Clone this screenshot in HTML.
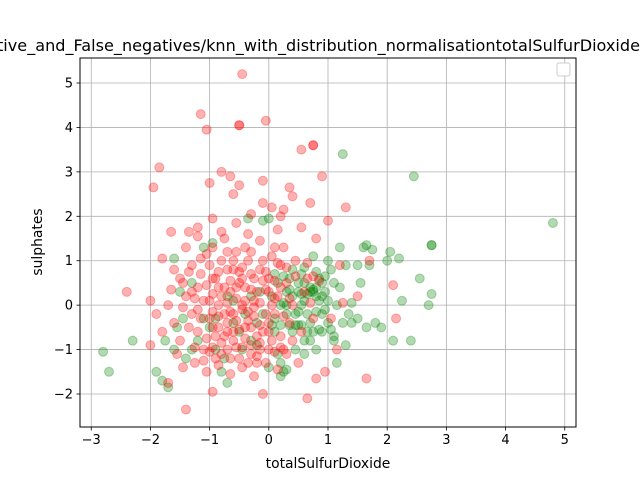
<!DOCTYPE html>
<html><head><meta charset="utf-8"><style>
body{margin:0;background:#fff}
svg{display:block;font-family:"DejaVu Sans","Liberation Sans",sans-serif}
</style></head><body>
<svg id="chart" width="640" height="480">
<rect x="0" y="0" width="640" height="480" fill="#fff"/>
<text x="-3" y="51" font-size="16" textLength="643" lengthAdjust="spacingAndGlyphs">tive_and_False_negatives/knn_with_distribution_normalisationtotalSulfurDioxide</text>
<g id="grid"></g>
<g id="points"></g>
<rect x="80" y="58" width="496" height="369" fill="none" stroke="#000" stroke-width="1"/>
<g id="ticks"></g>
<text x="328" y="468" font-size="13.9" text-anchor="middle">totalSulfurDioxide</text>
<text x="42" y="242" font-size="13.9" text-anchor="middle" transform="rotate(-90 42 242)">sulphates</text>
<rect x="557" y="63" width="13" height="13" rx="2" fill="#fff" stroke="#ccc"/>
</svg>
<script>
const xTicks=[-3,-2,-1,0,1,2,3,4,5];
const yTicks=[-2,-1,0,1,2,3,4,5];
const greenPts=[[-2.8,-1.05],[-2.7,-1.5],[-2.3,-0.8],[-1.9,-1.5],[-1.8,-1.7],[-1.7,-1.85],[-1.75,-0.8],[-1.6,-1.0],[-1.55,-0.5],[-1.5,0.3],[-1.6,1.05],[-1.4,-1.2],[-1.3,-1.0],[-1.2,-0.8],[-1.1,1.3],[-1.0,-0.5],[-0.9,-0.3],[-0.8,-1.5],[-0.7,-1.75],[-0.6,0.1],[-0.5,-0.6],[-0.4,-0.2],[-0.3,0.2],[-0.2,-0.9],[-0.1,1.9],[0.0,1.95],[0.1,-0.3],[0.15,0.5],[0.2,-1.3],[0.25,-1.5],[0.3,0.0],[0.35,-0.45],[0.4,0.8],[0.45,-0.2],[0.5,0.3],[0.55,-0.45],[0.6,0.1],[0.6,0.85],[0.65,-0.6],[0.7,0.4],[0.7,-0.4],[0.75,1.1],[0.8,0.2],[0.8,-1.0],[0.85,0.6],[0.9,-0.2],[0.9,0.5],[0.95,0.3],[1.0,1.0],[1.0,-0.4],[1.05,0.8],[1.1,-0.7],[1.15,-1.3],[1.2,0.4],[1.2,1.3],[1.25,3.4],[1.3,0.9],[1.35,-0.2],[1.4,0.05],[1.4,-0.4],[1.5,-0.3],[1.5,0.9],[1.6,1.3],[1.65,1.35],[1.7,0.9],[1.75,1.25],[1.8,-0.4],[1.9,-0.5],[2.0,1.0],[2.05,1.2],[2.1,-0.8],[2.2,1.05],[2.25,0.1],[2.4,-0.8],[2.45,2.9],[2.55,0.6],[2.7,0.0],[2.75,1.35],[2.75,0.25],[4.8,1.85],[0.3,0.3],[0.35,0.35],[0.45,-0.45],[0.5,-0.45],[0.55,0.0],[0.65,0.25],[0.7,0.3],[0.75,0.35],[0.8,0.4],[0.85,-0.55],[0.9,-0.6],[1.1,-0.8],[0.05,0.2],[0.1,-0.6],[0.2,0.0],[0.25,0.05],[-0.2,-0.4],[-0.3,-0.8],[-0.6,-0.4],[-0.7,0.2],[-0.75,-1.2],[-0.95,1.4],[-1.3,0.5],[-1.45,-0.3],[0.0,-1.4],[0.2,-1.6],[0.3,-1.45],[0.6,-1.1],[0.7,-0.8],[0.1,0.7],[0.55,0.7],[0.6,0.5],[1.0,0.1],[1.15,0.0],[0.8,-0.15],[0.95,-0.1],[1.3,-0.9],[0.5,-0.15],[-0.35,1.95],[1.55,0.5],[1.65,-0.5],[2.75,1.35],[0.75,0.3],[0.3,-0.2],[0.4,-0.6],[0.5,0.5],[0.65,-0.2],[0.85,0.1],[0.95,0.65],[1.05,-0.55],[0.35,0.6],[0.2,-0.45],[0.15,-1.1],[0.45,-1.0],[0.6,-0.8],[0.9,0.2],[1.1,0.5],[1.25,-0.4],[0.75,-0.6],[0.55,0.25],[0.4,0.2],[0.25,0.65],[0.8,0.75],[-0.1,-0.2],[-0.45,-1.0],[-0.9,-1.0],[-1.1,-0.3],[-0.15,0.3],[0.05,-0.45]];
const redPts=[[-1.15,4.3],[-1.05,3.95],[-0.5,4.05],[-0.5,4.05],[-0.45,5.2],[-0.05,4.15],[-1.85,3.1],[-1.95,2.65],[-0.65,2.9],[-0.8,3.0],[-0.5,2.7],[-1.0,2.75],[-0.1,2.8],[0.55,3.5],[0.75,3.6],[0.75,3.6],[0.35,2.65],[0.9,2.9],[0.4,2.45],[0.7,2.3],[0.25,2.15],[0.05,2.2],[-0.1,2.3],[-0.6,2.5],[-0.3,2.05],[0.2,2.0],[0.55,1.75],[-1.2,1.75],[-1.35,1.65],[-1.65,1.65],[-0.8,1.65],[-2.4,0.3],[-2.0,0.1],[-1.4,-2.35],[-0.95,-1.95],[-0.1,-2.0],[0.65,-2.1],[1.65,-1.65],[0.8,-1.65],[-1.7,-1.75],[1.3,2.2],[1.0,1.9],[0.8,1.5],[2.1,0.45],[2.15,-0.3],[1.7,1.0],[1.5,0.2],[1.05,-0.3],[1.15,-1.0],[0.95,-1.5],[1.2,0.9],[1.25,0.05],[0.75,0.65],[0.65,0.6],[-1.8,1.05],[-1.6,0.8],[-1.5,0.6],[-1.4,1.3],[-1.3,0.9],[-1.2,0.4],[-1.1,0.1],[-1.0,0.9],[-0.9,0.6],[-0.8,0.2],[-0.7,0.8],[-0.6,1.0],[-0.5,0.5],[-0.4,1.3],[-0.3,0.7],[-0.2,0.3],[-0.1,1.0],[0.0,0.6],[0.1,1.3],[0.2,0.9],[0.3,0.5],[-1.7,0.0],[-1.6,-0.4],[-1.5,-0.8],[-1.4,0.2],[-1.3,-0.2],[-1.2,-0.6],[-1.1,-1.0],[-1.0,-0.3],[-0.9,-0.7],[-0.8,-1.1],[-0.7,-0.4],[-0.6,-0.8],[-0.5,-1.2],[-0.4,-0.5],[-0.3,-0.9],[-0.2,-1.3],[-0.1,-0.6],[0.0,-1.0],[0.1,-0.2],[0.2,-0.7],[0.3,-1.1],[0.4,0.0],[-1.55,-1.1],[-1.45,-1.4],[-1.25,-1.3],[-1.05,-1.5],[-0.85,-1.35],[-0.65,-1.55],[-0.45,-1.4],[-0.25,-1.6],[-0.05,-1.3],[0.15,-1.45],[-1.65,0.35],[-1.35,0.75],[-1.15,1.05],[-0.95,1.3],[-0.75,1.5],[-0.55,1.2],[-0.35,1.6],[-0.15,1.45],[0.05,1.1],[0.25,1.3],[0.45,1.0],[-0.85,0.0],[-0.65,0.3],[-0.45,-0.1],[-0.25,0.1],[-0.05,-0.2],[0.15,0.2],[0.35,-0.4],[0.55,-0.6],[-0.95,-0.95],[-0.75,-0.7],[-0.55,-0.35],[-0.35,-0.15],[-0.15,-0.45],[0.05,-0.8],[0.25,-1.0],[-1.05,0.45],[-0.85,0.75],[-0.65,0.55],[-0.45,0.85],[-0.25,0.6],[-0.05,0.35],[0.6,0.3],[0.7,0.05],[0.75,-0.3],[0.85,0.55],[0.65,0.95],[0.5,-1.3],[0.4,-0.8],[-1.9,-0.2],[-1.8,-0.6],[-2.0,-0.9],[-1.2,1.55],[-0.55,1.85],[-0.95,1.95],[0.15,1.7],[-0.45,0.0],[-0.35,-0.35],[-0.75,-0.2],[-0.55,0.15],[-0.15,0.8],[0.05,0.0],[-0.9,-1.2],[-0.7,-1.0],[-0.3,-1.1],[0.0,-0.4],[-1.35,-0.5],[-1.25,0.15],[-0.95,0.25],[-0.4,0.4],[-0.2,-0.7],[0.25,-0.25],[0.35,0.15],[0.45,0.65],[-0.6,-0.6],[-0.1,0.55],[-0.6,0.8],[-0.5,0.75],[-0.45,-0.95],[-0.15,-1.0],[-1.0,-1.05],[-0.85,-0.25],[0.2,0.4],[-0.65,-0.15],[-1.15,-0.3],[-0.25,-0.25],[-1.05,-0.75],[-0.95,-0.5],[-0.8,-0.85],[-0.7,-0.6],[-0.55,-0.95],[-0.4,-0.75],[-0.3,-0.5],[-0.15,-0.85],[0.0,-0.6],[0.1,-1.05],[-1.0,0.1],[-0.85,0.4],[-0.7,0.05],[-0.55,0.4],[-0.4,0.1],[-0.3,0.35],[-0.15,0.05],[0.0,0.3],[0.1,0.55],[-1.2,-0.1],[-1.3,0.3],[-1.45,-0.05],[-1.15,0.7],[-0.8,1.0],[-0.35,1.0],[0.15,0.95],[-0.65,-1.2],[-0.35,-1.3],[-1.1,-1.25],[-0.2,-1.15],[0.2,-0.95],[-0.95,0.6],[-0.45,0.6],[-0.25,-0.05],[-0.6,-0.2],[-0.85,-0.5],[-1.25,-0.95],[-0.5,-0.55],[0.1,0.15],[-0.05,0.75],[-0.75,0.4],[-0.95,-0.15],[0.3,0.85],[-0.3,1.2],[-0.7,1.2],[-1.05,1.15],[-1.45,0.5]];
const X0=80,X1=576,xMin=-3.19,xMax=5.19;
const Y0=58,Y1=427,yMin=-2.743,yMax=5.563;
function sx(v){return X0+(v-xMin)/(xMax-xMin)*(X1-X0);}
function sy(v){return Y1-(v-yMin)/(yMax-yMin)*(Y1-Y0);}
const NS='http://www.w3.org/2000/svg';
const grid=document.getElementById('grid'),ticks=document.getElementById('ticks'),pts=document.getElementById('points');
function mk(tag,attrs,parent){const e=document.createElementNS(NS,tag);for(const k in attrs)e.setAttribute(k,attrs[k]);parent.appendChild(e);return e;}
xTicks.forEach(t=>{const x=sx(t);
 const g=mk('line',{x1:x,x2:x,y1:Y0,y2:Y1,stroke:'#b0b0b0','stroke-width':0.8},grid);
 
 
 mk('line',{x1:x,x2:x,y1:Y1,y2:Y1+3.5,stroke:'#000','stroke-width':0.8},ticks);
 const l=mk('text',{x:x,y:Y1+17,'font-size':13,'text-anchor':'middle'},ticks);
 l.textContent=t<0?'\u2212'+(-t):String(t);
 
 
});
yTicks.forEach(t=>{const y=sy(t);
 const g=mk('line',{x1:X0,x2:X1,y1:y,y2:y,stroke:'#b0b0b0','stroke-width':0.8},grid);
 
 
 mk('line',{x1:X0-3.5,x2:X0,y1:y,y2:y,stroke:'#000','stroke-width':0.8},ticks);
 const l=mk('text',{x:X0-7,y:y+4.5,'font-size':13,'text-anchor':'end'},ticks);
 l.textContent=t<0?'\u2212'+(-t):String(t);
 
 
});
greenPts.forEach(p=>{const c=mk('circle',{cx:sx(p[0]),cy:sy(p[1]),r:4.5,fill:'#008000','fill-opacity':0.3,stroke:'#008000','stroke-opacity':0.3,'stroke-width':1},pts);
 
 
});
redPts.forEach(p=>{const c=mk('circle',{cx:sx(p[0]),cy:sy(p[1]),r:4.5,fill:'#ff0000','fill-opacity':0.3,stroke:'#ff0000','stroke-opacity':0.3,'stroke-width':1},pts);
 
 
});
</script>
</body></html>
